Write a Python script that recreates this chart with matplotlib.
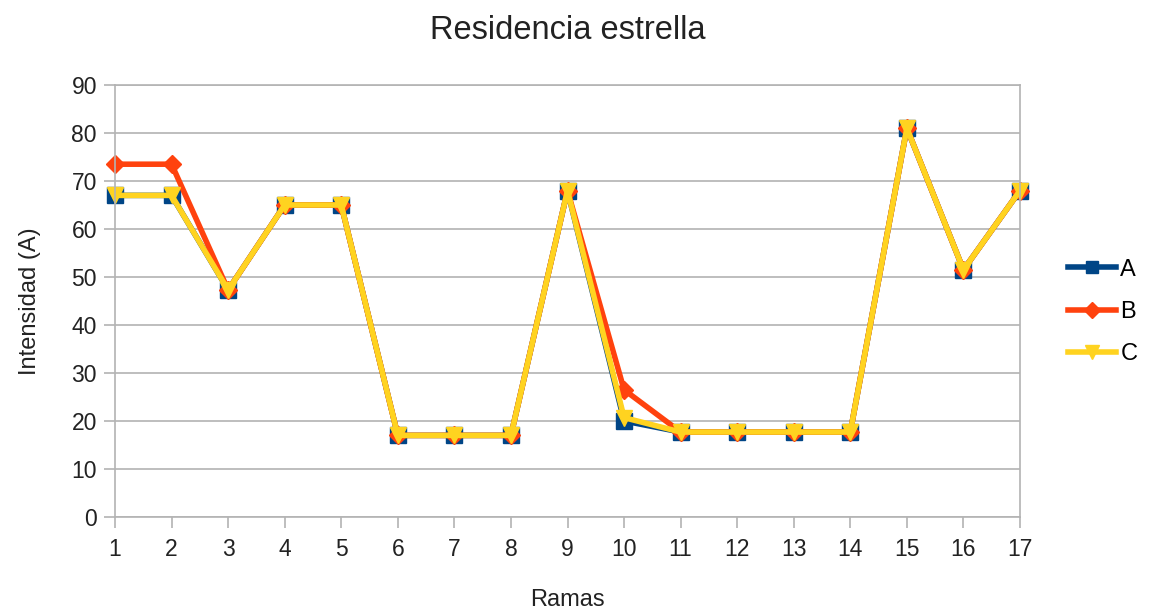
import matplotlib.pyplot as plt

plt.rcParams['font.family'] = ['Liberation Sans', 'DejaVu Sans']

ramas = list(range(1, 18))
fase_a = [67, 67, 47.3, 65, 65, 17, 17, 17, 68, 20, 17.7, 17.7, 17.7, 17.7, 81, 51.5, 68]
fase_b = [73.5, 73.5, 47.3, 65, 65, 17, 17, 17, 68, 26.5, 17.7, 17.7, 17.7, 17.7, 81, 51.5, 68]
fase_c = [67, 67, 47.3, 65, 65, 17, 17, 17, 68, 20.7, 17.7, 17.7, 17.7, 17.7, 81, 51.5, 68]

fig = plt.figure(figsize=(11.6, 6.14), dpi=100)
ax = fig.add_axes([115 / 1160, 1 - 517 / 614, 905 / 1160, 432 / 614])

ax.plot(ramas, fase_a, color='#004586', lw=4, marker='s', ms=11, label='A', clip_on=False)
ax.plot(ramas, fase_b, color='#ff420e', lw=4, marker='D', ms=9, label='B', clip_on=False)
ax.plot(ramas, fase_c, color='#ffd320', lw=4, marker='v', ms=12, label='C', clip_on=False)

ax.set_xlim(1, 17)
ax.set_ylim(0, 90)
ax.set_xticks(ramas)
ax.set_yticks(range(0, 91, 10))
ax.grid(axis='y', color='#b3b3b3', lw=1.2)
ax.set_axisbelow(True)
for s in ax.spines.values():
    s.set_color('#b3b3b3')
    s.set_linewidth(1.2)
ax.tick_params(colors='#b3b3b3', labelcolor='#222222', labelsize=16.5, length=8, width=1.2)
ax.tick_params(axis='x', pad=7)
ax.tick_params(axis='y', pad=5)

ax.set_title('Residencia estrella', fontsize=23.5, pad=33, color='#222222')
ax.set_xlabel('Ramas', fontsize=17, labelpad=20, color='#222222')
ax.set_ylabel('Intensidad (A)', fontsize=17, labelpad=22, color='#222222')

ax.legend(loc='center left', bbox_to_anchor=(1.03, 0.475), frameon=False,
          fontsize=17, handlelength=2.0, labelspacing=0.85, handletextpad=0.2,
          markerscale=0.85)

fig.savefig('out.png')
